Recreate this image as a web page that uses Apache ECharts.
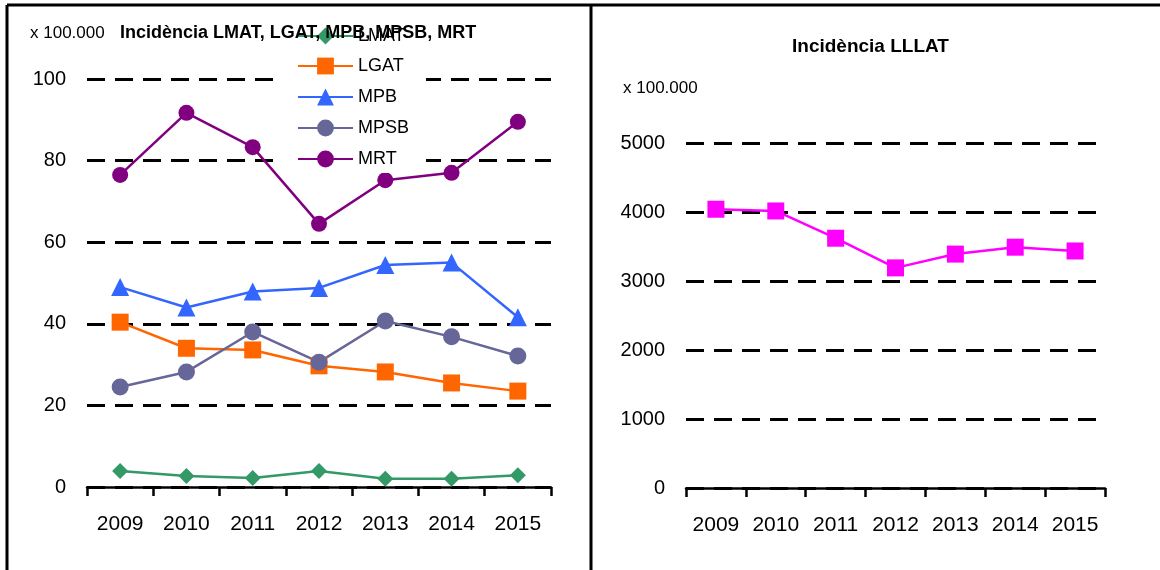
<!DOCTYPE html>
<html>
<head>
<meta charset="utf-8">
<script src="https://cdn.jsdelivr.net/npm/echarts@6/dist/echarts.min.js"></script>
<style>
  html, body { margin: 0; padding: 0; background: #fff; }
  #chart { width: 1160px; height: 570px; }
</style>
</head>
<body>
<div id="chart"></div>
<script>
//--------------------Data--------------------
let years = ["2009", "2010", "2011", "2012", "2013", "2014", "2015"];
let lmat = [3.9, 2.7, 2.2, 3.9, 2.0, 2.0, 2.9];
let lgat = [40.4, 34.0, 33.6, 29.7, 28.2, 25.5, 23.5];
let mpb = [49.0, 44.0, 47.9, 48.8, 54.4, 55.0, 41.6];
let mpsb = [24.5, 28.2, 38.0, 30.6, 40.7, 36.8, 32.1];
let mrt = [76.5, 91.7, 83.3, 64.5, 75.2, 77.0, 89.5];
let lllat = [4040, 4015, 3620, 3190, 3390, 3490, 3435];

let font_family = "'Liberation Sans', Arial, sans-serif";

let chart_dom = document.getElementById("chart");
let chart = echarts.init(chart_dom);

//--------------------Axis helpers--------------------
function cat_axis(idx) {
    return {
        type: 'category',
        gridIndex: idx,
        data: years,
        boundaryGap: true,
        axisLine: { lineStyle: { color: '#000', width: 2.5 } },
        axisTick: { show: true, interval: 0, length: 9, lineStyle: { color: '#000', width: 2.5 } },
        axisLabel: { interval: 0, color: '#000', fontSize: 21, fontFamily: font_family, margin: 27 }
    };
}
function val_axis(idx, max, step) {
    return {
        type: 'value',
        gridIndex: idx,
        min: 0,
        max: max,
        interval: step,
        axisLine: { show: false },
        axisTick: { show: false },
        axisLabel: {
            color: '#000', fontSize: 20, fontFamily: font_family, margin: 21,
            formatter: function (v) { return String(v); }
        },
        splitLine: { lineStyle: { color: '#000', width: 3, type: [18, 10] } }
    };
}
function line_series(name, data, color, symbol, size, xi) {
    return {
        type: 'line',
        name: name,
        data: data,
        xAxisIndex: xi,
        yAxisIndex: xi,
        symbol: symbol,
        symbolSize: size,
        showAllSymbol: true,
        lineStyle: { color: color, width: 2.5 },
        itemStyle: { color: color },
        animation: false
    };
}

//--------------------Option--------------------
let option = {
    backgroundColor: '#fff',
    animation: false,
    title: [
        {
            text: 'Incidència LMAT, LGAT, MPB, MPSB, MRT',
            left: 120, top: 24, padding: 0,
            textStyle: { fontSize: 18, fontWeight: 'bold', color: '#000', fontFamily: font_family }
        },
        {
            text: 'x 100.000',
            left: 30, top: 25, padding: 0,
            textStyle: { fontSize: 17, fontWeight: 'normal', color: '#000', fontFamily: font_family }
        },
        {
            text: 'Incidència LLLAT',
            left: 792, top: 37, padding: 0,
            textStyle: { fontSize: 19, fontWeight: 'bold', color: '#000', fontFamily: font_family }
        },
        {
            text: 'x 100.000',
            left: 623, top: 80, padding: 0,
            textStyle: { fontSize: 17, fontWeight: 'normal', color: '#000', fontFamily: font_family }
        }
    ],
    legend: [
        {
            data: ['LMAT'],
            orient: 'vertical',
            left: 283, top: 24,
            padding: [3, 17, 3, 14],
            itemWidth: 55, itemHeight: 21,
            textStyle: { fontSize: 18, color: '#000', fontFamily: font_family }
        },
        {
            data: ['LGAT', 'MPB', 'MPSB', 'MRT'],
            orient: 'vertical',
            left: 283, top: 52,
            padding: [5, 17, 5, 14],
            itemGap: 13,
            itemWidth: 55, itemHeight: 21,
            backgroundColor: '#fff',
            textStyle: { fontSize: 18, color: '#000', fontFamily: font_family }
        }
    ],
    grid: [
        { left: 87, right: 609, top: 79, bottom: 83 },
        { left: 686, right: 55, top: 143, bottom: 82 }
    ],
    xAxis: [cat_axis(0), cat_axis(1)],
    yAxis: [val_axis(0, 100, 20), val_axis(1, 5000, 1000)],
    series: [
        line_series('LMAT', lmat, '#339966', 'diamond', 16, 0),
        line_series('LGAT', lgat, '#FF6600', 'rect', 17, 0),
        line_series('MPB', mpb, '#3366FF', 'triangle', 18, 0),
        line_series('MPSB', mpsb, '#666699', 'circle', 17, 0),
        line_series('MRT', mrt, '#800080', 'circle', 16, 0),
        line_series('LLLAT', lllat, '#FF00FF', 'rect', 17, 1)
    ],
    //------------------Panel borders------------------
    graphic: [
        { type: 'line', shape: { x1: 7, y1: 5, x2: 1160, y2: 5 }, style: { stroke: '#000', lineWidth: 3 } },
        { type: 'line', shape: { x1: 7, y1: 5, x2: 7, y2: 570 }, style: { stroke: '#000', lineWidth: 3 } },
        { type: 'line', shape: { x1: 591, y1: 5, x2: 591, y2: 570 }, style: { stroke: '#000', lineWidth: 3 } }
    ]
};
chart.setOption(option, true);
</script>
</body>
</html>
